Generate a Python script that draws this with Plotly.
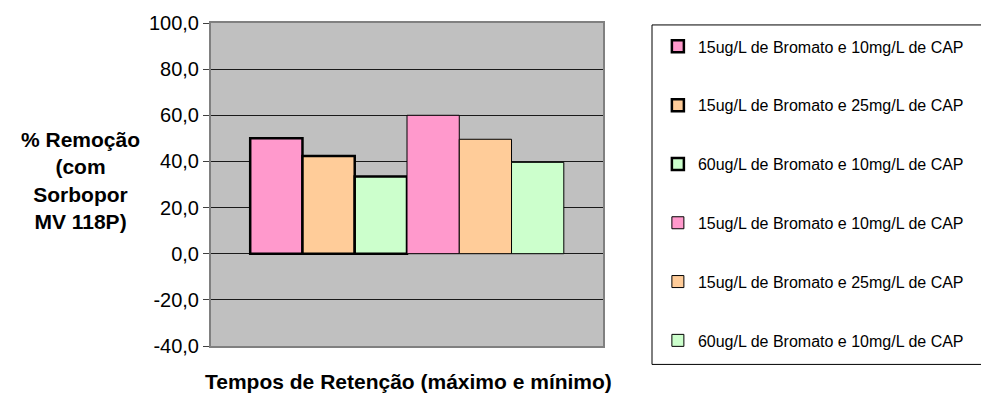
import plotly.graph_objects as go

# Série de dados: % de remoção para cada condição (tempos máximo e mínimo)
series_names = [
    "15ug/L de Bromato e 10mg/L de CAP",
    "15ug/L de Bromato e 25mg/L de CAP",
    "60ug/L de Bromato e 10mg/L de CAP",
    "15ug/L de Bromato e 10mg/L de CAP",
    "15ug/L de Bromato e 25mg/L de CAP",
    "60ug/L de Bromato e 10mg/L de CAP",
]
removal_values = [50.0, 42.3, 33.5, 60.0, 49.6, 39.6]
bar_colors = ["#FF99CC", "#FFCC99", "#CCFFCC", "#FF99CC", "#FFCC99", "#CCFFCC"]
border_widths = [2.5, 2.5, 2.5, 1, 1, 1]
category = ["Tempos"]
y_ticks = [-40, -20, 0, 20, 40, 60, 80, 100]
y_tick_labels = [f"{v:.1f}".replace(".", ",") for v in y_ticks]

FONT = "Liberation Sans, Arial, sans-serif"

fig = go.Figure()
for i, (name, val, col, bw) in enumerate(zip(series_names, removal_values, bar_colors, border_widths)):
    fig.add_trace(go.Bar(
        x=category, y=[val], name=name,
        marker=dict(color=col, line=dict(color="black", width=bw)),
        legendgroup=f"g{i}",
    ))

# Moldura da legenda
fig.add_shape(type="rect", xref="paper", yref="paper",
              x0=1.125, x1=1.99, y0=-0.057, y1=0.994,
              line=dict(color="black", width=1), fillcolor="white", layer="below")

fig.add_annotation(
    text="<b>% Remoção<br>(com<br>Sorbopor<br>MV 118P)</b>",
    xref="paper", yref="paper", x=-0.334, y=0.512,
    xanchor="center", yanchor="middle", showarrow=False,
    font=dict(family=FONT, size=21, color="black"), align="center",
)
fig.add_annotation(
    text="<b>Tempos de Retenção (máximo e mínimo)</b>",
    xref="paper", yref="paper", x=0.503, y=-0.109,
    xanchor="center", yanchor="middle", showarrow=False,
    font=dict(family=FONT, size=21, color="black"),
)

fig.update_layout(
    width=981, height=395,
    margin=dict(l=211, r=378, t=15, b=49),
    paper_bgcolor="white", plot_bgcolor="#C0C0C0",
    barmode="group", bargap=0.2, bargroupgap=0,
    font=dict(family=FONT, color="black"),
    legend=dict(
        x=1.14, y=0.98, xanchor="left", yanchor="top",
        font=dict(family=FONT, size=16, color="black"),
        tracegroupgap=35, bgcolor="rgba(0,0,0,0)",
        itemclick=False, maxheight=390,
    ),
    xaxis=dict(showticklabels=False, ticks="", showgrid=False,
               showline=True, linecolor="#808080", linewidth=2, mirror=True),
    yaxis=dict(range=[-40, 100], tickvals=y_ticks, ticktext=y_tick_labels,
               showgrid=True, gridcolor="#1a1a1a", gridwidth=1,
               zeroline=True, zerolinecolor="#1a1a1a", zerolinewidth=1,
               ticks="outside", ticklen=6, tickcolor="#404040",
               showline=True, linecolor="#808080", linewidth=2, mirror=True,
               tickfont=dict(family=FONT, size=20, color="black")),
)

fig.write_html("out.html")
